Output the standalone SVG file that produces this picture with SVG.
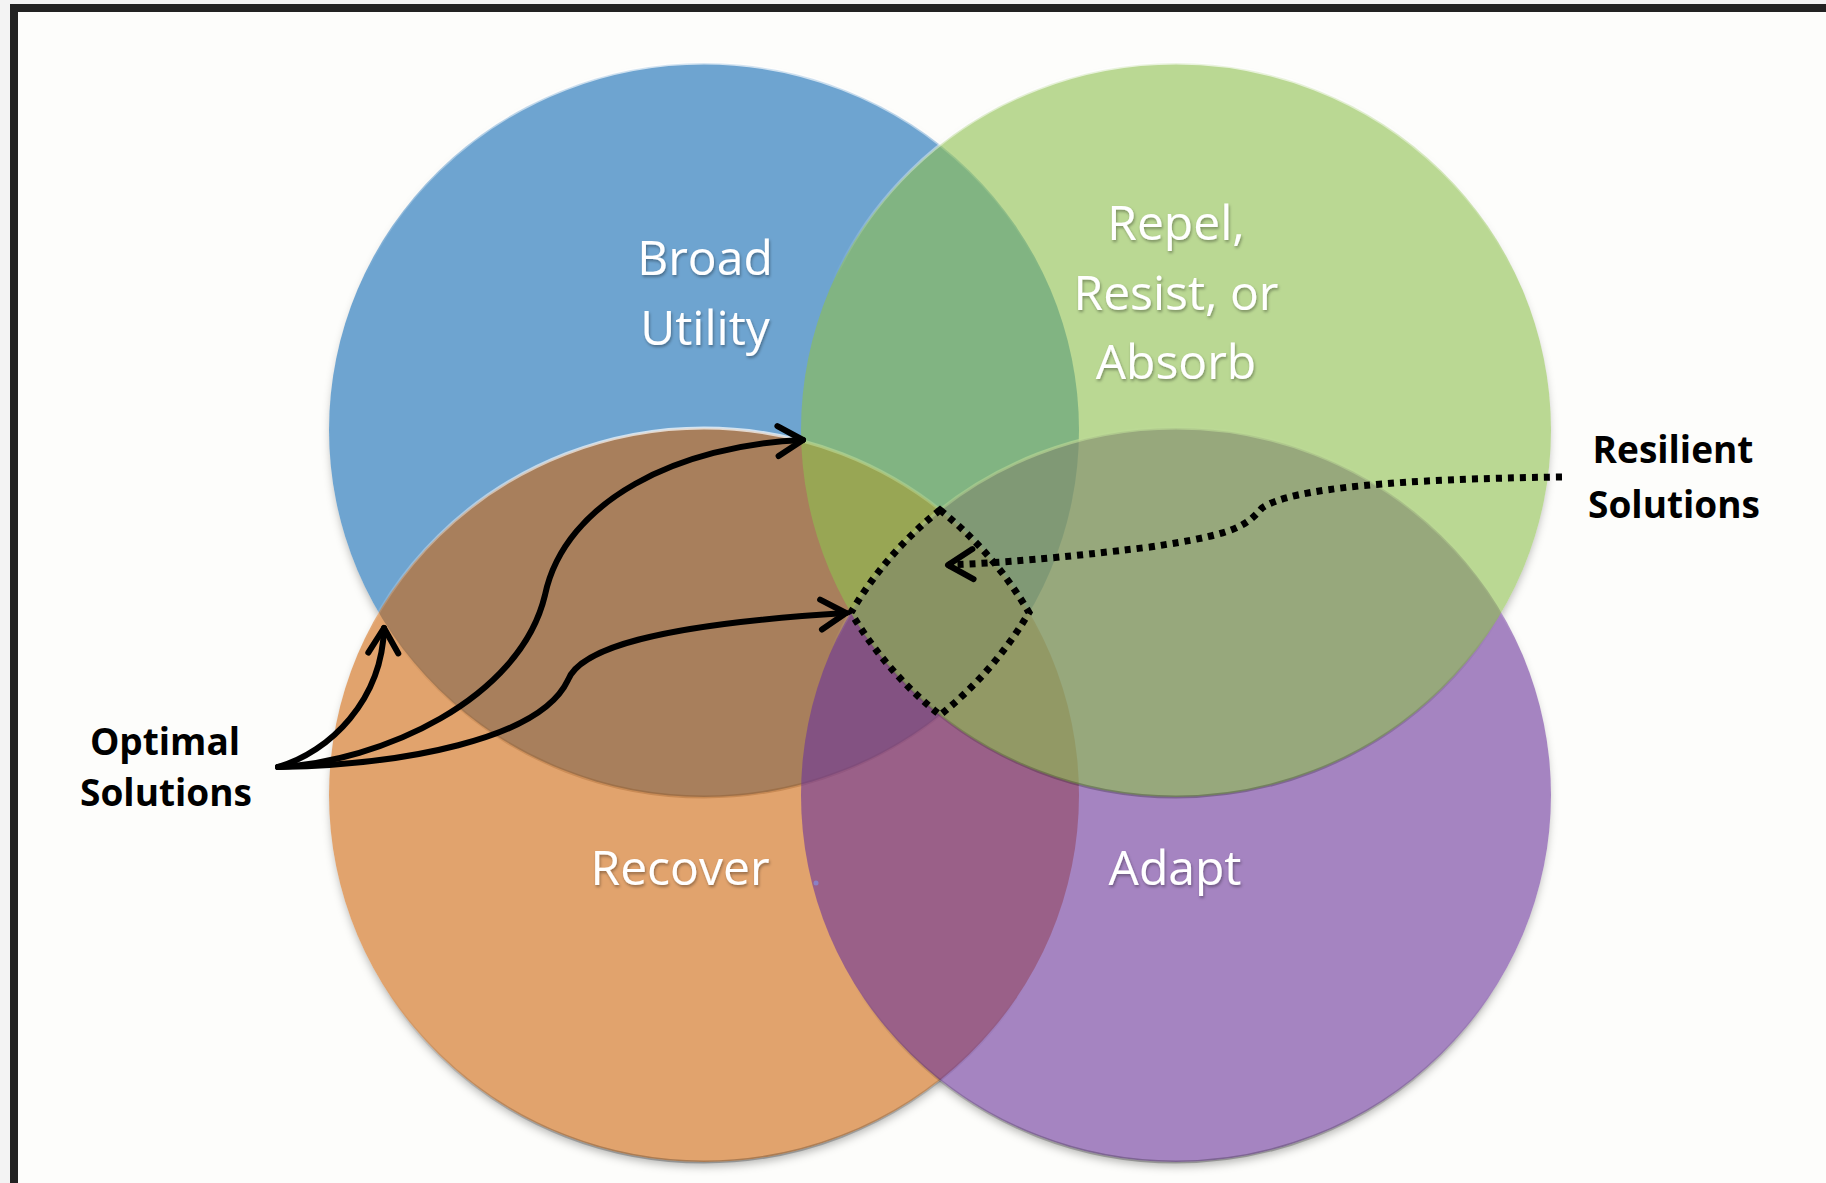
<svg xmlns="http://www.w3.org/2000/svg" width="1826" height="1183" viewBox="0 0 1826 1183">
<style>
.lbl{font-family:"Open Sans","Noto Sans","DejaVu Sans",sans-serif;font-size:48px;fill:#ffffff;text-anchor:middle;filter:url(#tsh)}
.cap{font-family:"Open Sans","Noto Sans","DejaVu Sans",sans-serif;font-size:37px;font-weight:bold;fill:#000;text-anchor:middle}
.disc{fill-opacity:0.6;stroke:url(#rim);stroke-width:3}
.solid{fill:none;stroke:#000;stroke-width:6;stroke-linecap:round}
.dots{fill:none;stroke:#000;stroke-width:7;stroke-dasharray:6 6}
</style>
<defs>
<linearGradient id="rim" x1="0" y1="0" x2="0" y2="1">
<stop offset="0" stop-color="#ffffff" stop-opacity="0.7"/>
<stop offset="0.3" stop-color="#ffffff" stop-opacity="0"/>
<stop offset="0.75" stop-color="#000000" stop-opacity="0"/>
<stop offset="1" stop-color="#000000" stop-opacity="0.25"/>
</linearGradient>
<filter id="tsh" x="-20%" y="-30%" width="140%" height="160%">
<feDropShadow dx="1" dy="2" stdDeviation="1.5" flood-color="#000" flood-opacity="0.35"/>
</filter>
<filter id="blur" x="-10%" y="-10%" width="120%" height="120%">
<feGaussianBlur stdDeviation="5"/>
</filter>
<mask id="outside" maskUnits="userSpaceOnUse" x="0" y="0" width="1826" height="1183">
<rect x="0" y="0" width="1826" height="1183" fill="#fff"/>
<ellipse cx="704" cy="430" rx="375" ry="367" fill="#000"/>
<ellipse cx="1176" cy="430" rx="375" ry="367" fill="#000"/>
<ellipse cx="704" cy="795" rx="375" ry="367" fill="#000"/>
<ellipse cx="1176" cy="795" rx="375" ry="367" fill="#000"/>
</mask>
<marker id="chev" markerUnits="userSpaceOnUse" markerWidth="60" markerHeight="60" refX="0" refY="0" viewBox="-40 -30 60 60" orient="auto" overflow="visible">
<path d="M -25 -15 L 0 0 L -25 15" fill="none" stroke="#000" stroke-width="6" stroke-linecap="round" stroke-linejoin="round" stroke-dasharray="none"/>
</marker>
</defs>

<rect x="0" y="0" width="1826" height="1183" fill="#f3f3f3"/>
<rect x="10" y="4" width="1816" height="1179" fill="#222222"/>
<rect x="18" y="12" width="1808" height="1171" fill="#fdfdfb"/>

<g id="shadow" mask="url(#outside)">
<g filter="url(#blur)" transform="translate(0,6)" fill="#000" fill-opacity="0.3">
<ellipse cx="704" cy="430" rx="373" ry="365"/>
<ellipse cx="1176" cy="430" rx="373" ry="365"/>
<ellipse cx="704" cy="795" rx="373" ry="365"/>
<ellipse cx="1176" cy="795" rx="373" ry="365"/>
</g>
</g>

<g id="broad-utility">
<ellipse class="disc" cx="704" cy="430" rx="375" ry="367" fill="#0f69b4"/>
</g>
<g id="recover">
<ellipse class="disc" cx="704" cy="795" rx="375" ry="367" fill="#cf670f"/>
</g>
<g id="adapt">
<ellipse class="disc" cx="1176" cy="795" rx="375" ry="367" fill="#6b349b"/>
</g>
<g id="repel-resist-absorb">
<ellipse class="disc" cx="1176" cy="430" rx="375" ry="367" fill="#8ec04e"/>
</g>

<g id="circle-labels">
<text class="lbl" x="705" y="275">Broad</text>
<text class="lbl" x="705" y="345">Utility</text>
<text class="lbl" x="1176" y="240">Repel,</text>
<text class="lbl" x="1176" y="310">Resist, or</text>
<text class="lbl" x="1176" y="379">Absorb</text>
<text class="lbl" x="680" y="885">Recover</text>
<text class="lbl" x="1175" y="885">Adapt</text>
<circle cx="816" cy="883" r="2.5" fill="#8a80c4"/>
</g>

<g id="optimal-solutions">
<text class="cap" x="165" y="755">Optimal</text>
<text class="cap" x="166" y="806">Solutions</text>
</g>
<g id="resilient-solutions">
<text class="cap" x="1673" y="463">Resilient</text>
<text class="cap" x="1674" y="518">Solutions</text>
</g>

<g id="connectors">
<path class="solid" d="M 278 767 C 330 752, 382 700, 384 628" marker-end="url(#chev)"/>
<path class="solid" d="M 278 767 C 380 762, 520 700, 545 595 C 565 500, 680 445, 803 440" marker-end="url(#chev)"/>
<path class="solid" d="M 278 767 C 400 765, 540 740, 568 680 C 580 650, 650 625, 846 613" marker-end="url(#chev)"/>
<path class="dots" d="M 940 510 A 375 367 0 0 1 1029 612.5 A 375 367 0 0 1 940 715 A 375 367 0 0 1 851 612.5 A 375 367 0 0 1 940 510 Z"/>
<path class="dots" d="M 1562 477 C 1400 479, 1290 488, 1262 508 C 1245 528, 1230 535, 1150 547 C 1060 558, 1000 563, 948 565" marker-end="url(#chev)"/>
</g>
</svg>
